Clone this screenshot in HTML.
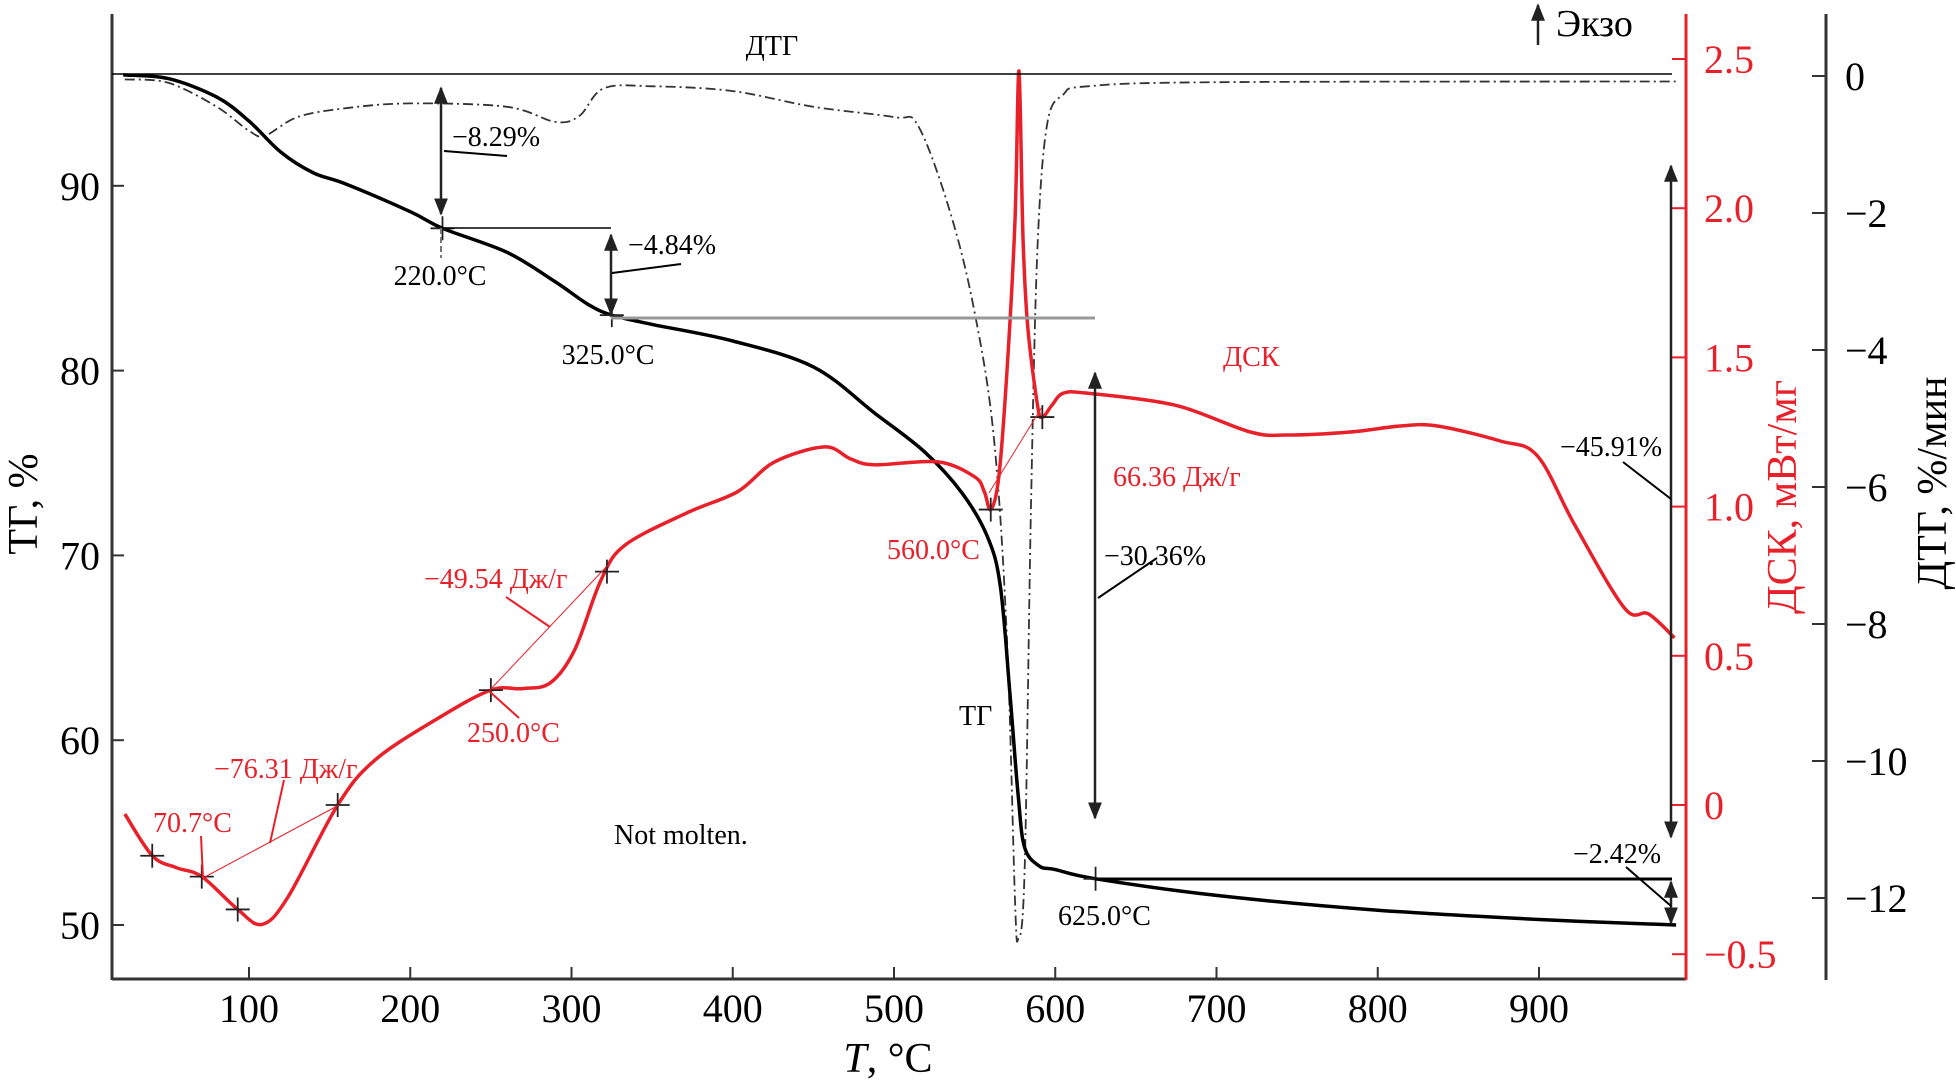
<!DOCTYPE html>
<html><head><meta charset="utf-8"><style>
html,body{margin:0;padding:0;background:#fff;width:1956px;height:1083px;overflow:hidden}
svg{display:block}
text{font-family:"Liberation Serif","DejaVu Serif",serif}
</style></head><body>
<svg id="chart" width="1956" height="1083" viewBox="0 0 1956 1083" xmlns="http://www.w3.org/2000/svg">
<defs>
<marker id="ah" viewBox="0 0 10 10" refX="9" refY="5" markerWidth="7" markerHeight="9" orient="auto-start-reverse"><path d="M0,1 L10,5 L0,9 z" fill="#222"/></marker>
</defs>
<g id="axes"></g>
<g id="series"></g>
<g id="annot" font-size="28">
  <line x1="112" y1="74" x2="1672" y2="74" stroke="#000" stroke-width="1.5"/>
  <text x="772" y="55" text-anchor="middle" font-size="28">ДТГ</text>
  <line x1="441" y1="88" x2="441" y2="214" stroke="#222" stroke-width="2.5" marker-start="url(#ah)" marker-end="url(#ah)"/>
  <text x="452" y="146">−8.29%</text>
  <line x1="444" y1="151" x2="507" y2="156" stroke="#000" stroke-width="2"/>
  <line x1="441" y1="228" x2="611" y2="228" stroke="#000" stroke-width="1.5"/>
  <line x1="441" y1="228" x2="441" y2="258" stroke="#777" stroke-width="2" stroke-dasharray="6,3"/>
  <text x="440" y="285" text-anchor="middle">220.0°C</text>
  <line x1="611" y1="235" x2="611" y2="314" stroke="#222" stroke-width="2.5" marker-start="url(#ah)" marker-end="url(#ah)"/>
  <text x="628" y="254">−4.84%</text>
  <line x1="612" y1="273" x2="681" y2="264" stroke="#000" stroke-width="2"/>
  <line x1="611" y1="318" x2="1095" y2="318" stroke="#999" stroke-width="3"/>
  <text x="608" y="364" text-anchor="middle">325.0°C</text>
  <line x1="1095" y1="373" x2="1095" y2="818" stroke="#222" stroke-width="2.5" marker-start="url(#ah)" marker-end="url(#ah)"/>
  <text x="1104" y="565">−30.36%</text>
  <line x1="1098" y1="598" x2="1157" y2="558" stroke="#000" stroke-width="2"/>
  <text x="1113" y="486" fill="#e8202a">66.36 Дж/г</text>
  <text x="1223" y="366" fill="#e8202a">ДСК</text>
  <text x="887" y="559" fill="#e8202a">560.0°C</text>
  <line x1="1671" y1="166" x2="1671" y2="837" stroke="#222" stroke-width="2.5" marker-start="url(#ah)" marker-end="url(#ah)"/>
  <text x="1560" y="456">−45.91%</text>
  <line x1="1623" y1="462" x2="1671" y2="499" stroke="#000" stroke-width="2"/>
  <line x1="1095" y1="879" x2="1672" y2="879" stroke="#000" stroke-width="3"/>
  <text x="1058" y="925">625.0°C</text>
  <line x1="1671" y1="882" x2="1671" y2="923" stroke="#222" stroke-width="2.5" marker-start="url(#ah)" marker-end="url(#ah)"/>
  <text x="1573" y="863">−2.42%</text>
  <line x1="1626" y1="867" x2="1671" y2="906" stroke="#000" stroke-width="2"/>
  <line x1="1538" y1="45" x2="1538" y2="5" stroke="#222" stroke-width="2.5" marker-end="url(#ah)"/>
  <text x="1556" y="36" font-size="38">Экзо</text>
  <text x="959" y="725">ТГ</text>
  <text x="614" y="844">Not molten.</text>
  <text x="424" y="588" fill="#e8202a">−49.54 Дж/г</text>
  <line x1="506" y1="597" x2="550" y2="627" stroke="#e8202a" stroke-width="2"/>
  <line x1="489" y1="691" x2="608" y2="565" stroke="#e8202a" stroke-width="1"/>
  <text x="467" y="742" fill="#e8202a">250.0°C</text>
  <line x1="489" y1="691" x2="519" y2="718" stroke="#e8202a" stroke-width="2"/>
  <text x="214" y="778" fill="#e8202a">−76.31 Дж/г</text>
  <line x1="284" y1="780" x2="270" y2="843" stroke="#e8202a" stroke-width="2"/>
  <line x1="203" y1="878" x2="339" y2="805" stroke="#e8202a" stroke-width="1"/>
  <text x="153" y="832" fill="#e8202a">70.7°C</text>
  <line x1="201" y1="836" x2="203" y2="878" stroke="#e8202a" stroke-width="2"/>
  <line x1="989" y1="493" x2="1042" y2="407" stroke="#e8202a" stroke-width="1"/>
</g>
</svg>
<script>
const tgT=[22,50,80,100,120,140,160,200,220,260,290,310,325,350,400,450,488,519,542,558,566,572,577,581,590,600,625,700,800,900,985];
const tgV=[96.0,95.8,94.8,93.5,91.8,90.7,90.1,88.6,87.7,86.4,84.8,83.6,83.0,82.5,81.6,80.2,77.7,75.6,73.4,71.0,68.3,62.4,57.0,54.2,53.2,53.0,52.5,51.6,50.8,50.3,50.0];
const dscT=[23,40,55,70.7,93,108,124,155,178,217,250,270,287,302,318,333,372,403,426,457,473,488,527,550,556,560,565,570,575,577.5,580,583,589,592,598,605,620,674,721,744,783,814,837,876,899,922,953,968,984];
const dscV=[-0.03,-0.17,-0.21,-0.24,-0.35,-0.40,-0.31,0,0.15,0.29,0.385,0.39,0.41,0.52,0.75,0.87,0.98,1.05,1.15,1.2,1.16,1.14,1.15,1.10,1.05,0.99,1.1,1.45,1.95,2.46,1.9,1.6,1.34,1.3,1.34,1.38,1.38,1.34,1.25,1.24,1.25,1.27,1.27,1.22,1.17,0.94,0.66,0.64,0.56];
const dtgT=[23,50,80,100,110,130,160,200,260,290,305,320,350,400,450,500,515,535,550,562,570,575,577,581,585,589,595,605,620,700,985];
const dtgV=[-0.05,-0.1,-0.45,-0.8,-0.87,-0.6,-0.47,-0.4,-0.45,-0.67,-0.58,-0.18,-0.15,-0.22,-0.45,-0.6,-0.73,-2.0,-3.45,-5.3,-8.2,-12.0,-12.6,-11.6,-6.2,-2.5,-0.7,-0.27,-0.15,-0.09,-0.08];
const xTicks=[100,200,300,400,500,600,700,800,900];
const tgTicks=[50,60,70,80,90];
const dscTicks=[-0.5,0,0.5,1.0,1.5,2.0,2.5];
const dscTickLabels=["−0.5","0","0.5","1.0","1.5","2.0","2.5"];
const dtgTicks=[0,-2,-4,-6,-8,-10,-12];
const dtgTickLabels=["0","−2","−4","−6","−8","−10","−12"];
const dscMarks=[40,70.7,93,155,250,322,560,592];
const tgMarks=[220,325,625];

const X=t=>249+(t-100)*1.6125;
const YTG=v=>925-(v-50)*18.48;
const YDSC=v=>805-v*298.4;
const YDTG=v=>76-v*68.5;
const NS="http://www.w3.org/2000/svg";
function mk(tag,attrs,parent,txt){const e=document.createElementNS(NS,tag);for(const k in attrs)e.setAttribute(k,attrs[k]);if(txt!==undefined)e.textContent=txt;parent.appendChild(e);return e;}
const ax=document.getElementById('axes'), se=document.getElementById('series');
let e=mk('line',{x1:112,y1:14,x2:112,y2:980,stroke:'#333','stroke-width':3},ax);


e=mk('line',{x1:112,y1:979,x2:1686,y2:979,stroke:'#333','stroke-width':3},ax);


e=mk('line',{x1:1686,y1:14,x2:1686,y2:980,stroke:'#e8202a','stroke-width':3},ax);


e=mk('line',{x1:1826,y1:14,x2:1826,y2:980,stroke:'#333','stroke-width':3},ax);


xTicks.forEach(t=>{
  let l=mk('line',{x1:X(t),y1:979,x2:X(t),y2:967,stroke:'#333','stroke-width':2},ax);
  
  
  let s=mk('text',{x:X(t),y:1022,'text-anchor':'middle','font-size':40},ax,String(t));
  
  
});
tgTicks.forEach(v=>{
  let l=mk('line',{x1:112,y1:YTG(v),x2:124,y2:YTG(v),stroke:'#333','stroke-width':2},ax);
  
  
  let s=mk('text',{x:100,y:YTG(v)+14,'text-anchor':'end','font-size':40},ax,String(v));
  
  
});
dscTicks.forEach((v,i)=>{
  let l=mk('line',{x1:1686,y1:YDSC(v),x2:1672,y2:YDSC(v),stroke:'#e8202a','stroke-width':2},ax);
  
  
  let s=mk('text',{x:1704,y:YDSC(v)+14,'font-size':40,fill:'#e8202a'},ax,dscTickLabels[i]);
  
  
});
dtgTicks.forEach((v,i)=>{
  let l=mk('line',{x1:1826,y1:YDTG(v),x2:1812,y2:YDTG(v),stroke:'#333','stroke-width':2},ax);
  
  
  let s=mk('text',{x:1845,y:YDTG(v)+14,'font-size':40},ax,dtgTickLabels[i]);
  
  
});
e=mk('text',{x:0,y:0,'font-size':42,'text-anchor':'middle',transform:'translate(37,504) rotate(-90)'},ax,'ТГ, %');


e=mk('text',{x:888,y:1072,'font-size':42,'text-anchor':'middle'},ax);


mk('tspan',{'font-style':'italic'},e,'T');mk('tspan',{},e,', °C');
e=mk('text',{x:0,y:0,'font-size':42,'text-anchor':'middle',fill:'#e8202a',transform:'translate(1796,497) rotate(-90)'},ax,'ДСК, мВт/мг');


e=mk('text',{x:0,y:0,'font-size':42,'text-anchor':'middle',transform:'translate(1946,483) rotate(-90)'},ax,'ДТГ, %/мин');



function path(ts,vs,yf,smooth){
  const p=ts.map((t,i)=>[X(t),yf(vs[i])]);
  if(!smooth)return p.map((q,i)=>(i?'L':'M')+q[0].toFixed(1)+','+q[1].toFixed(1)).join(' ');
  let d='M'+p[0][0].toFixed(1)+','+p[0][1].toFixed(1);
  for(let i=0;i<p.length-1;i++){
    const p0=p[Math.max(0,i-1)],p1=p[i],p2=p[i+1],p3=p[Math.min(p.length-1,i+2)];
    const c1=[p1[0]+(p2[0]-p0[0])/6,p1[1]+(p2[1]-p0[1])/6];
    const c2=[p2[0]-(p3[0]-p1[0])/6,p2[1]-(p3[1]-p1[1])/6];
    d+=` C${c1[0].toFixed(1)},${c1[1].toFixed(1)} ${c2[0].toFixed(1)},${c2[1].toFixed(1)} ${p2[0].toFixed(1)},${p2[1].toFixed(1)}`;
  }
  return d;
}
e=mk('path',{d:path(dtgT,dtgV,YDTG,true),fill:'none',stroke:'#333','stroke-width':1.8,'stroke-dasharray':'10,4,2,4'},se);


e=mk('path',{d:path(tgT,tgV,YTG,true),fill:'none',stroke:'#000','stroke-width':3.5,'stroke-linejoin':'round'},se);


e=mk('path',{d:path(dscT,dscV,YDSC,true),fill:'none',stroke:'#e8202a','stroke-width':3.5,'stroke-linejoin':'round'},se);


function interp(ts,vs,t){for(let i=1;i<ts.length;i++){if(t<=ts[i]){const f=(t-ts[i-1])/(ts[i]-ts[i-1]);return vs[i-1]+f*(vs[i]-vs[i-1]);}}return vs[vs.length-1];}
function cross(x,y,name){const g=mk('path',{d:`M${x-12},${y} H${x+12} M${x},${y-12} V${y+12}`,stroke:'#222','stroke-width':1.8},se);
  
  }
dscMarks.forEach(t=>cross(X(t),YDSC(interp(dscT,dscV,t)),'dsc-marker'));
tgMarks.forEach(t=>cross(X(t),YTG(interp(tgT,tgV,t)),'tg-marker'));
</script>
</body></html>
